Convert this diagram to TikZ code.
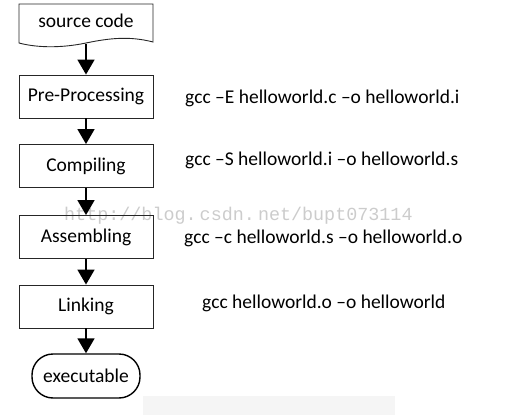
\documentclass[tikz,border=0pt]{standalone}
\usepackage{fontspec}
\setmainfont{Carlito}
\newfontfamily\wmfont{Liberation Mono}
\usetikzlibrary{arrows.meta}
\begin{document}
\begin{tikzpicture}[x=1pt,y=-1pt,
  box/.style={draw=black!85,line width=0.9pt,minimum width=134pt,minimum height=43pt,inner sep=0pt,font=\fontsize{19.5}{23}\selectfont},
  term/.style={draw=black,line width=1.4pt,minimum width=108pt,minimum height=44pt,rounded corners=21pt,inner sep=0pt,font=\fontsize{19.5}{23}\selectfont},
  cmd/.style={anchor=west,inner sep=0pt,font=\fontsize{19.5}{23}\selectfont},
  arr/.style={line width=1.8pt,-{Triangle[width=17pt,length=15pt]}}]
\useasboundingbox (0,0) rectangle (528,415);
\fill[black!4] (143,396) rectangle (395,415);
\node[text=black!20,font=\wmfont\fontsize{18.4}{21}\selectfont,anchor=west,inner sep=0pt] (wm) at (64,216) {http://blog.\,csdn.\,net/bupt073114};
% source code document
\draw[black!85,line width=0.9pt] (19,4) -- (153,4) -- (153,42)
  .. controls (130,36) and (110,38) .. (86,43)
  .. controls (62,48) and (38,48) .. (19,43) -- cycle;
\node[inner sep=0pt,font=\fontsize{19.5}{23}\selectfont] (src) at (86,21) {source code};
\coordinate (srcb) at (86,44);
\node[box] (pre) at (86,96.5) {Pre-Processing};
\node[box] (comp) at (86,166) {Compiling};
\node[box] (asm) at (86,237) {Assembling};
\node[box] (link) at (86,306.5) {Linking};
\node[term] (exe) at (86,376) {executable};
\draw[arr] (srcb) -- (pre.north);
\draw[arr] (pre) -- (comp);
\draw[arr] (comp) -- (asm);
\draw[arr] (asm) -- (link);
\draw[arr] (link) -- (exe);
\node[cmd] (c1) at (185,98) {gcc –E helloworld.c –o helloworld.i};
\node[cmd] (c2) at (185,160) {gcc –S helloworld.i –o helloworld.s};
\node[cmd] (c3) at (184,238) {gcc –c helloworld.s –o helloworld.o};
\node[cmd] (c4) at (202,303) {gcc helloworld.o –o helloworld};
\end{tikzpicture}
\end{document}
